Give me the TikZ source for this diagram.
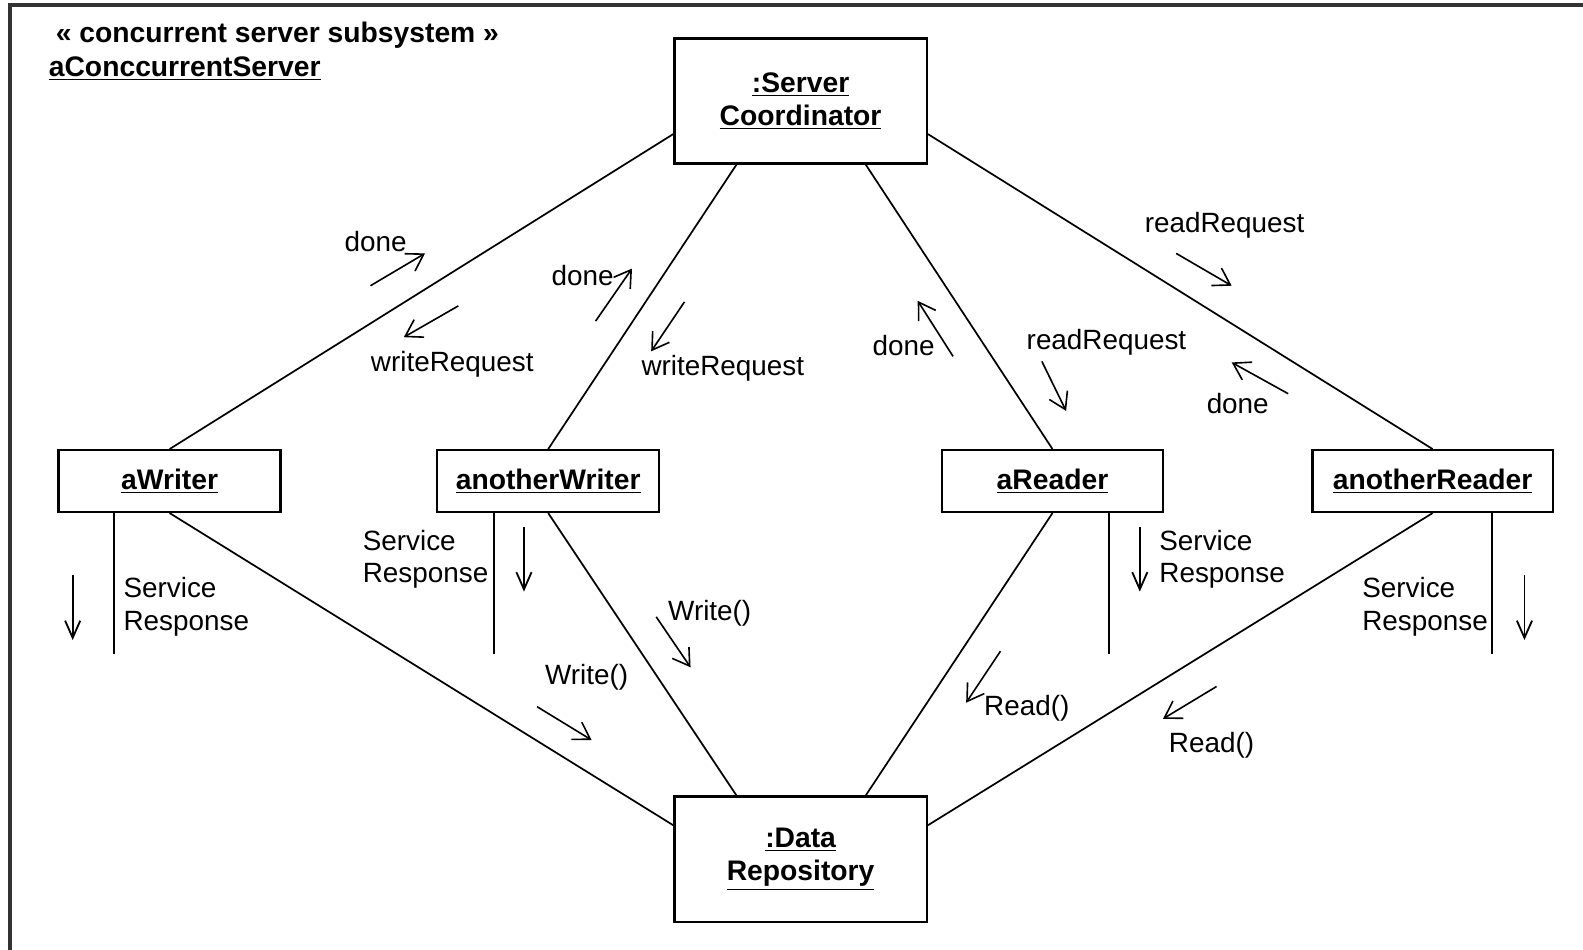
\documentclass[tikz,border=0pt]{standalone}
\usepackage{fontspec}
\setmainfont{Liberation Sans}
\usetikzlibrary{arrows.meta,calc}

\begin{document}
\begin{tikzpicture}[x=0.5pt,y=-0.5pt,
  every node/.style={font=\fontsize{13.8}{16}\selectfont, inner sep=0pt},
  box/.style={draw, line width=1.2pt, fill=white, align=center,
              font=\fontsize{14}{16.5}\selectfont\bfseries},
  wide/.style={box, minimum width=125pt, minimum height=62pt},
  obj/.style={box, minimum height=30.5pt},
  lbl/.style={align=left},
  link/.style={line width=0.85pt},
  life/.style={line width=1pt},
  msg/.style={line width=0.8pt, -{Straight Barb[length=8pt,width=10pt]}},
  resp/.style={line width=0.9pt, -{Straight Barb[length=8.5pt,width=7.5pt]}}
]
\useasboundingbox (0,0) rectangle (1568,941);

% enclosing subsystem frame (top and left edges)
\draw[line width=1.6pt, black!80] (10,941) -- (10,5) -- (1568,5);
\node[anchor=west, font=\fontsize{14}{16}\selectfont\bfseries] (stereo) at (55,35)
  {« concurrent server subsystem »};
\node[anchor=west, font=\fontsize{14}{16}\selectfont\bfseries] (sysname) at (48,68)
  {\underline{aConccurrentServer}};

% objects
\node[wide] (srv) at (793,100) {\underline{:Server}\\\underline{Coordinator}};
\node[wide] (repo) at (793,851) {\underline{:Data}\\\underline{Repository}};
\node[obj, minimum width=110pt] (aw) at (168,476.5) {\underline{aWriter}};
\node[obj, minimum width=110pt] (ow) at (543,476.5) {\underline{anotherWriter}};
\node[obj, minimum width=109.5pt] (ar) at (1042.5,476.5) {\underline{aReader}};
\node[obj, minimum width=119pt] (or) at (1419,476.5) {\underline{anotherReader}};

% links to the coordinator
\draw[link] ($(srv.south west)!0.24!(srv.north west)$) -- (aw.north);
\draw[link] ($(srv.south west)!0.248!(srv.south east)$) -- (ow.north);
\draw[link] ($(srv.south west)!0.756!(srv.south east)$) -- (ar.north);
\draw[link] ($(srv.south east)!0.24!(srv.north east)$) -- (or.north);

% links to the repository
\draw[link] (aw.south) -- ($(repo.north west)!0.234!(repo.south west)$);
\draw[link] (ow.south) -- ($(repo.north west)!0.248!(repo.north east)$);
\draw[link] (ar.south) -- ($(repo.north west)!0.756!(repo.north east)$);
\draw[link] (or.south) -- ($(repo.north east)!0.234!(repo.south east)$);

% external service interfaces
\coordinate (awl) at (113,648);
\coordinate (owl) at (489,648);
\coordinate (arl) at (1098,648);
\coordinate (orl) at (1478,648);
\draw[life] (aw.south -| awl) -- (awl);
\draw[life] (ow.south -| owl) -- (owl);
\draw[life] (ar.south -| arl) -- (arl);
\draw[life] (or.south -| orl) -- (orl);

% service responses
\coordinate (r1a) at (72,570);   \coordinate (r1b) at (72,634);
\coordinate (r2a) at (519,522);  \coordinate (r2b) at (519,586);
\coordinate (r3a) at (1129,522); \coordinate (r3b) at (1129,586);
\coordinate (r4a) at (1510,570); \coordinate (r4b) at (1510,634);
\draw[resp] (r1a) -- (r1b);
\draw[resp] (r2a) -- (r2b);
\draw[resp] (r3a) -- (r3b);
\draw[resp] (r4a) -- (r4b);
\node[lbl, anchor=west] (sr1) at (122,601) {Service\\Response};
\node[lbl, anchor=west] (sr2) at (359,554) {Service\\Response};
\node[lbl, anchor=west] (sr3) at (1148,554) {Service\\Response};
\node[lbl, anchor=west] (sr4) at (1349,601) {Service\\Response};

% messages between writers/readers and the coordinator
\coordinate (m1a) at (367,283);  \coordinate (m1b) at (421,251);
\coordinate (m2a) at (454,303);  \coordinate (m2b) at (400,334);
\coordinate (m3a) at (590,318);  \coordinate (m3b) at (626,266);
\coordinate (m4a) at (678,299);  \coordinate (m4b) at (645,348);
\coordinate (m5a) at (944,353);  \coordinate (m5b) at (909,298);
\coordinate (m6a) at (1032,358); \coordinate (m6b) at (1056,407);
\coordinate (m7a) at (1165,251); \coordinate (m7b) at (1220,283);
\coordinate (m8a) at (1276,390); \coordinate (m8b) at (1220,359);
\foreach \m in {1,...,8} \draw[msg] (m\m a) -- (m\m b);
\node (t1) at (372,239) {done};
\node (t2) at (448,361) {writeRequest};
\node (t3) at (577,273) {done};
\node (t4) at (716,365) {writeRequest};
\node (t5) at (895,342) {done};
\node (t6) at (1096,339) {readRequest};
\node (t7) at (1213,223) {readRequest};
\node (t8) at (1226,400) {done};

% messages to the repository
\coordinate (n1a) at (650,611);  \coordinate (n1b) at (684,661);
\coordinate (n2a) at (532,700);  \coordinate (n2b) at (586,733);
\coordinate (n3a) at (991,645);  \coordinate (n3b) at (957,696);
\coordinate (n4a) at (1205,680); \coordinate (n4b) at (1152,712);
\foreach \m in {1,...,4} \draw[msg] (n\m a) -- (n\m b);
\node (u1) at (703,607) {Write()};
\node (u2) at (581,671) {Write()};
\node (u3) at (1017,702) {Read()};
\node (u4) at (1200,738) {Read()};
\end{tikzpicture}
\end{document}
